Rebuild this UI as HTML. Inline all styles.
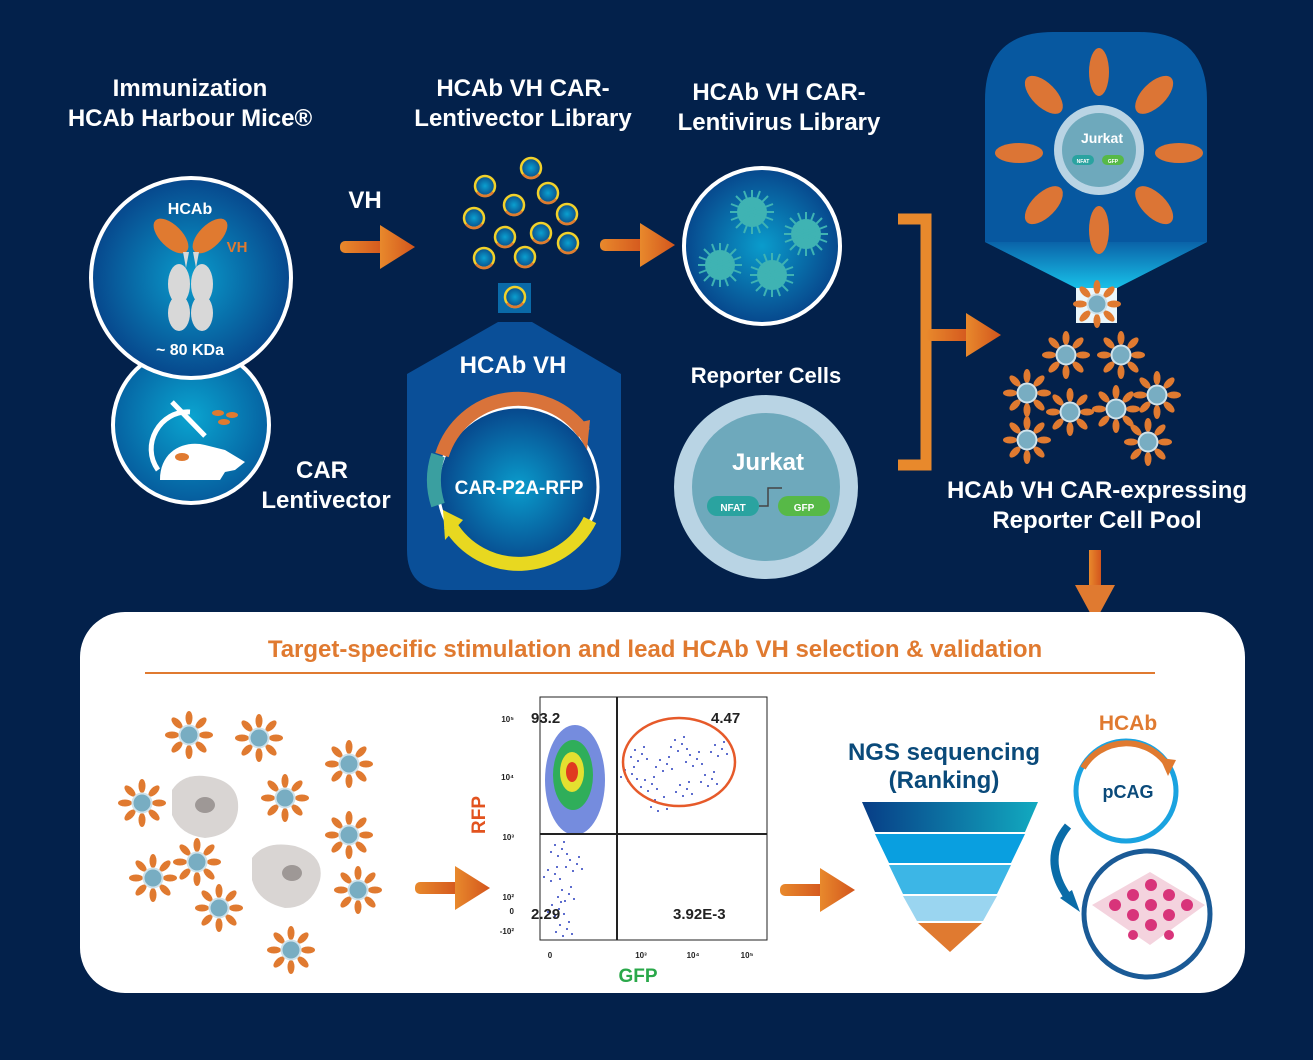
<!DOCTYPE html>
<html><head><meta charset="utf-8"><style>
html,body{margin:0;padding:0;background:#03214b;}
svg{display:block;}
text{font-family:"Liberation Sans",sans-serif;font-weight:bold;}
</style></head><body>
<svg width="1313" height="1060" viewBox="0 0 1313 1060" xmlns="http://www.w3.org/2000/svg">
<defs>
<radialGradient id="rb" cx="50%" cy="50%" r="50%"><stop offset="0" stop-color="#0a9ccc"/><stop offset="1" stop-color="#07478c"/></radialGradient>
<radialGradient id="rb2" cx="50%" cy="45%" r="60%"><stop offset="0" stop-color="#0aa4d0"/><stop offset="1" stop-color="#055598"/></radialGradient>
<radialGradient id="dot" cx="50%" cy="50%" r="50%"><stop offset="0" stop-color="#0aa0d0"/><stop offset="1" stop-color="#0a4d8a"/></radialGradient>
<linearGradient id="arr" x1="0" x2="1"><stop offset="0" stop-color="#e8892c"/><stop offset="1" stop-color="#d3551d"/></linearGradient>
<linearGradient id="neck" x1="0" y1="0" x2="0" y2="1"><stop offset="0" stop-color="#0a63a8"/><stop offset="1" stop-color="#18c0e8"/></linearGradient>
<linearGradient id="band1" x1="0" x2="1"><stop offset="0" stop-color="#073d86"/><stop offset="1" stop-color="#12aac0"/></linearGradient>
<g id="arrow"><rect x="0" y="-6" width="45" height="12" rx="5" fill="url(#arr)"/><polygon points="40,-22 75,0 40,22" fill="url(#arr)"/></g>
<g id="vdot"><circle r="10" fill="url(#dot)" stroke="#f2d12a" stroke-width="2.5"/><path d="M-8,6 A10,10 0 0 0 8,6" fill="none" stroke="#e07a30" stroke-width="2.5"/></g>
<g id="cell">
<g fill="#e07a30">
<ellipse cx="0" cy="-17" rx="3.5" ry="7"/><ellipse cx="0" cy="17" rx="3.5" ry="7"/><ellipse cx="-17" cy="0" rx="7" ry="3.5"/><ellipse cx="17" cy="0" rx="7" ry="3.5"/>
<ellipse cx="0" cy="-17" rx="3.5" ry="7" transform="rotate(45)"/><ellipse cx="0" cy="17" rx="3.5" ry="7" transform="rotate(45)"/><ellipse cx="-17" cy="0" rx="7" ry="3.5" transform="rotate(45)"/><ellipse cx="17" cy="0" rx="7" ry="3.5" transform="rotate(45)"/>
</g>
<circle r="9.5" fill="#78adc2" stroke="#cfe3ec" stroke-width="2"/></g>
<g id="virus" fill="#3fb3b3"><circle r="15"/>
<g stroke="#3fb3b3" stroke-width="2"><line x1="-22" y1="0" x2="22" y2="0"/><line x1="0" y1="-22" x2="0" y2="22"/><line x1="-16" y1="-16" x2="16" y2="16"/><line x1="-16" y1="16" x2="16" y2="-16"/><line x1="-8" y1="-21" x2="8" y2="21"/><line x1="-21" y1="-8" x2="21" y2="8"/><line x1="8" y1="-21" x2="-8" y2="21"/><line x1="21" y1="-8" x2="-21" y2="8"/></g></g>
<g id="sc" fill="#2a3fbf"><circle cx="0" cy="0" r="1"/><circle cx="7" cy="4" r="1"/><circle cx="3" cy="11" r="1"/><circle cx="12" cy="9" r="1"/><circle cx="-4" cy="7" r="1"/><circle cx="9" cy="-3" r="1"/></g>
</defs>
<rect width="1313" height="1060" fill="#03214b"/>

<g fill="#fff" font-size="24" text-anchor="middle">
<text x="190" y="96">Immunization</text><text x="190" y="126">HCAb Harbour Mice®</text>
<text x="523" y="96">HCAb VH CAR-</text><text x="523" y="126">Lentivector Library</text>
<text x="779" y="100">HCAb VH CAR-</text><text x="779" y="130">Lentivirus Library</text>
<text x="365" y="208">VH</text>
<text x="322" y="478">CAR</text><text x="326" y="508">Lentivector</text>
<text x="766" y="383" font-size="22">Reporter Cells</text>
<text x="1097" y="498">HCAb VH CAR-expressing</text><text x="1097" y="528">Reporter Cell Pool</text>
</g>

<circle cx="191" cy="425" r="78" fill="url(#rb2)" stroke="#fff" stroke-width="4"/>
<path d="M158,470 C140,445 160,410 190,412" fill="none" stroke="#fff" stroke-width="5"/>
<path d="M160,480 C160,450 185,440 205,445 L225,450 L245,462 L235,470 L225,472 L220,480 Z" fill="#fff"/>
<ellipse cx="182" cy="457" rx="7" ry="4" fill="#e07a30"/>
<line x1="172" y1="402" x2="205" y2="436" stroke="#fff" stroke-width="5"/>
<g fill="#e07a30"><ellipse cx="218" cy="413" rx="6" ry="3"/><ellipse cx="232" cy="415" rx="6" ry="3"/><ellipse cx="224" cy="422" rx="6" ry="3"/></g>
<circle cx="191" cy="278" r="100" fill="url(#rb)" stroke="#fff" stroke-width="4"/>
<text x="190" y="214" fill="#fff" font-size="16" text-anchor="middle" font-weight="normal">HCAb</text>
<text x="237" y="252" fill="#e07a30" font-size="15" text-anchor="middle" font-weight="normal">VH</text>
<text x="190" y="355" fill="#fff" font-size="16" text-anchor="middle" font-weight="normal">~ 80 KDa</text>
<ellipse cx="171" cy="236" rx="22" ry="11" transform="rotate(45 171 236)" fill="#e07a30"/>
<ellipse cx="210" cy="236" rx="22" ry="11" transform="rotate(-45 210 236)" fill="#e07a30"/>
<g fill="#d8d8d8"><ellipse cx="179" cy="284" rx="11" ry="20"/><ellipse cx="202" cy="284" rx="11" ry="20"/><ellipse cx="179" cy="313" rx="11" ry="18"/><ellipse cx="202" cy="313" rx="11" ry="18"/>
<polygon points="183,252 189,252 186,268"/><polygon points="193,252 199,252 196,268"/></g>

<use href="#arrow" x="340" y="247"/>
<use href="#arrow" x="600" y="245"/>

<use href="#vdot" x="531" y="168"/><use href="#vdot" x="485" y="186"/><use href="#vdot" x="548" y="193"/><use href="#vdot" x="514" y="205"/>
<use href="#vdot" x="474" y="218"/><use href="#vdot" x="567" y="214"/><use href="#vdot" x="541" y="233"/><use href="#vdot" x="505" y="237"/>
<use href="#vdot" x="568" y="243"/><use href="#vdot" x="484" y="258"/><use href="#vdot" x="525" y="257"/>

<rect x="498" y="283" width="33" height="30" fill="#0a6aa8"/>
<use href="#vdot" x="515" y="297"/>
<path d="M498,322 L532,322 L621,374 L621,550 Q621,590 581,590 L447,590 Q407,590 407,550 L407,374 Z" fill="#0a4f98"/>
<text x="513" y="373" fill="#fff" font-size="24" text-anchor="middle">HCAb VH</text>
<circle cx="518" cy="487" r="80" fill="url(#rb)" stroke="#fff" stroke-width="3"/>
<path d="M442,455 A80,80 0 0 1 584,433" fill="none" stroke="#d9733a" stroke-width="14"/>
<polygon points="572,424 590,420 587,450" fill="#d9733a"/>
<path d="M590,520 A80,80 0 0 1 450,525" fill="none" stroke="#e8d820" stroke-width="14"/>
<polygon points="443,510 463,520 445,540" fill="#e8d820"/>
<path d="M438,455 A80,80 0 0 0 438,505" fill="none" stroke="#3a9fa0" stroke-width="14"/>
<text x="519" y="494" fill="#fff" font-size="19" text-anchor="middle">CAR-P2A-RFP</text>

<circle cx="762" cy="246" r="78" fill="url(#rb)" stroke="#fff" stroke-width="4"/>
<use href="#virus" x="752" y="212"/><use href="#virus" x="806" y="234"/><use href="#virus" x="720" y="265"/><use href="#virus" x="772" y="275"/>

<circle cx="766" cy="487" r="92" fill="#b9d4e4"/>
<circle cx="766" cy="487" r="74" fill="#6ea9bc"/>
<text x="768" y="470" fill="#fff" font-size="24" text-anchor="middle">Jurkat</text>
<rect x="707" y="496" width="52" height="20" rx="10" fill="#2aa3a0"/><text x="733" y="511" fill="#fff" font-size="10" text-anchor="middle">NFAT</text>
<rect x="778" y="496" width="52" height="20" rx="10" fill="#57b947"/><text x="804" y="511" fill="#fff" font-size="10" text-anchor="middle">GFP</text>
<path d="M759,506 L768,506 L768,488 L782,488" fill="none" stroke="#444" stroke-width="1.5"/>

<path d="M898,219 L926,219 L926,465 L898,465" fill="none" stroke="#e8892c" stroke-width="11"/>
<use href="#arrow" x="926" y="335"/>

<path d="M985,100 Q985,32 1053,32 L1139,32 Q1207,32 1207,100 L1207,242 L1117,288 L1076,288 L985,242 Z" fill="#0758a0"/>
<path d="M985,242 L1207,242 L1117,288 L1076,288 Z" fill="url(#neck)"/>
<rect x="1076" y="288" width="41" height="35" fill="#eaf6fb"/>
<use href="#cell" x="1097" y="304"/>
<g transform="translate(1099,150)">
<g fill="#dc7535">
<ellipse cx="0" cy="-78" rx="10" ry="24"/><ellipse cx="0" cy="80" rx="10" ry="24"/><ellipse cx="-80" cy="3" rx="24" ry="10"/><ellipse cx="80" cy="3" rx="24" ry="10"/>
<ellipse cx="0" cy="-78" rx="12" ry="24" transform="rotate(45)"/><ellipse cx="0" cy="78" rx="12" ry="24" transform="rotate(45)"/><ellipse cx="0" cy="-78" rx="12" ry="24" transform="rotate(-45)"/><ellipse cx="0" cy="78" rx="12" ry="24" transform="rotate(-45)"/>
</g>
<circle r="45" fill="#b9d4e4"/><circle r="37" fill="#6ea9bc"/>
<text x="3" y="-7" fill="#fff" font-size="14" text-anchor="middle">Jurkat</text>
<rect x="-27" y="5" width="22" height="10" rx="5" fill="#2aa3a0"/><rect x="3" y="5" width="22" height="10" rx="5" fill="#57b947"/>
<text x="-16" y="13" fill="#fff" font-size="5" text-anchor="middle">NFAT</text><text x="14" y="13" fill="#fff" font-size="5" text-anchor="middle">GFP</text>
</g>
<use href="#cell" x="1066" y="355"/><use href="#cell" x="1121" y="355"/><use href="#cell" x="1027" y="393"/><use href="#cell" x="1070" y="412"/>
<use href="#cell" x="1116" y="409"/><use href="#cell" x="1157" y="395"/><use href="#cell" x="1027" y="440"/><use href="#cell" x="1148" y="442"/>

<rect x="1089" y="550" width="12" height="40" fill="url(#arr)"/>
<polygon points="1075,585 1115,585 1095,622" fill="#e07a30"/>

<rect x="80" y="612" width="1165" height="381" rx="45" fill="#fff"/>
<text x="655" y="657" fill="#e07a30" font-size="24" text-anchor="middle">Target-specific stimulation and lead HCAb VH selection &amp; validation</text>
<line x1="145" y1="673" x2="1155" y2="673" stroke="#e07a30" stroke-width="2"/>

<path d="M172,790 Q185,770 215,778 Q240,785 238,810 Q235,835 205,838 Q180,835 172,815 Z" fill="#d9d5d3"/>
<ellipse cx="205" cy="805" rx="10" ry="8" fill="#9e9896"/>
<path d="M252,858 Q265,840 295,846 Q325,855 320,880 Q312,908 285,908 Q258,902 252,880 Z" fill="#d9d5d3"/>
<ellipse cx="292" cy="873" rx="10" ry="8" fill="#9e9896"/>
<use href="#cell" x="189" y="735"/><use href="#cell" x="259" y="738"/><use href="#cell" x="349" y="764"/><use href="#cell" x="142" y="803"/>
<use href="#cell" x="285" y="798"/><use href="#cell" x="349" y="835"/><use href="#cell" x="197" y="862"/><use href="#cell" x="153" y="878"/>
<use href="#cell" x="358" y="890"/><use href="#cell" x="219" y="908"/><use href="#cell" x="291" y="950"/>

<use href="#arrow" x="415" y="888"/>
<use href="#arrow" x="780" y="890"/>

<rect x="540" y="697" width="227" height="243" fill="#fff" stroke="#222" stroke-width="1"/>
<ellipse cx="575" cy="780" rx="30" ry="55" fill="#3a5bd0" opacity="0.7"/>
<ellipse cx="573" cy="775" rx="20" ry="35" fill="#2fae5a"/>
<ellipse cx="572" cy="772" rx="12" ry="20" fill="#e4e030"/>
<ellipse cx="572" cy="772" rx="6" ry="10" fill="#e03a20"/>
<use href="#sc" x="555" y="845"/><use href="#sc" x="548" y="870"/><use href="#sc" x="562" y="890"/><use href="#sc" x="552" y="905"/><use href="#sc" x="570" y="860"/><use href="#sc" x="560" y="925"/>
<use href="#sc" x="635" y="750"/><use href="#sc" x="660" y="760"/><use href="#sc" x="690" y="755"/><use href="#sc" x="705" y="775"/><use href="#sc" x="645" y="780"/><use href="#sc" x="675" y="740"/><use href="#sc" x="625" y="770"/><use href="#sc" x="680" y="785"/><use href="#sc" x="715" y="745"/><use href="#sc" x="655" y="800"/>
<line x1="617" y1="697" x2="617" y2="940" stroke="#222" stroke-width="2"/>
<line x1="540" y1="834" x2="767" y2="834" stroke="#222" stroke-width="2"/>
<ellipse cx="679" cy="762" rx="56" ry="44" fill="none" stroke="#e65a2a" stroke-width="2.5"/>
<g font-weight="normal" fill="#222" font-size="15">
<text x="531" y="723">93.2</text><text x="711" y="723">4.47</text><text x="531" y="919">2.29</text><text x="673" y="919">3.92E-3</text>
</g>
<g font-weight="normal" fill="#222" font-size="8" text-anchor="end">
<text x="514" y="722">10⁵</text><text x="514" y="780">10⁴</text><text x="514" y="840">10³</text><text x="514" y="900">10²</text><text x="514" y="914">0</text><text x="514" y="934">-10²</text>
</g>
<g font-weight="normal" fill="#222" font-size="8" text-anchor="middle">
<text x="550" y="958">0</text><text x="641" y="958">10³</text><text x="693" y="958">10⁴</text><text x="747" y="958">10⁵</text>
</g>
<text x="638" y="982" fill="#2aa84a" font-size="19" text-anchor="middle">GFP</text>
<text x="485" y="815" fill="#e2531f" font-size="19" text-anchor="middle" transform="rotate(-90 485 815)">RFP</text>

<text x="944" y="760" fill="#0a4a7a" font-size="24" text-anchor="middle">NGS sequencing</text>
<text x="944" y="788" fill="#0a4a7a" font-size="24" text-anchor="middle">(Ranking)</text>
<polygon points="862,802 1038,802 1025,832 875,832" fill="url(#band1)"/>
<polygon points="875,834 1025,834 1011,863 889,863" fill="#099fe0"/>
<polygon points="889,865 1011,865 997,894 903,894" fill="#3cb6e6"/>
<polygon points="903,896 997,896 983,921 917,921" fill="#9ad5f0"/>
<polygon points="918,923 982,923 950,952" fill="#e07a30"/>

<circle cx="1126" cy="791" r="50" fill="none" stroke="#1aa3e0" stroke-width="5"/>
<path d="M1083,768 A50,50 0 0 1 1168,766" fill="none" stroke="#e07a30" stroke-width="6"/>
<polygon points="1160,758 1176,760 1168,776" fill="#e07a30"/>
<text x="1128" y="730" fill="#e07a30" font-size="21" text-anchor="middle">HCAb</text>
<text x="1128" y="798" fill="#0a4a7a" font-size="18" text-anchor="middle">pCAG</text>
<path d="M1068,826 Q1040,860 1070,900" fill="none" stroke="#0a6ca8" stroke-width="8"/>
<polygon points="1060,898 1080,912 1072,890" fill="#0a6ca8"/>
<circle cx="1147" cy="914" r="63" fill="#fff" stroke="#1a5a96" stroke-width="5"/>
<polygon points="1092,905 1150,872 1205,905 1150,945" fill="#f4d3de"/>
<g fill="#d8347a">
<circle cx="1115" cy="905" r="6"/><circle cx="1133" cy="895" r="6"/><circle cx="1151" cy="885" r="6"/><circle cx="1169" cy="895" r="6"/>
<circle cx="1133" cy="915" r="6"/><circle cx="1151" cy="905" r="6"/><circle cx="1169" cy="915" r="6"/><circle cx="1187" cy="905" r="6"/>
<circle cx="1151" cy="925" r="6"/><circle cx="1169" cy="935" r="5"/><circle cx="1133" cy="935" r="5"/>
</g>
</svg>
</body></html>
